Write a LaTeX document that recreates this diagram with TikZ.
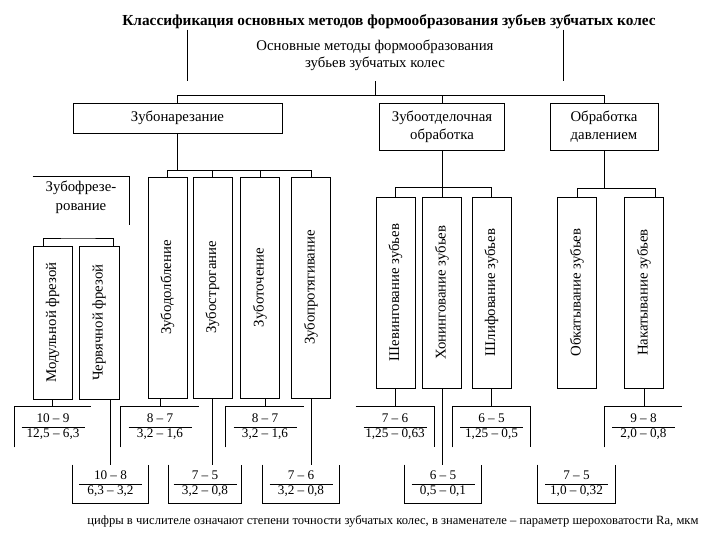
\documentclass[tikz,border=0pt]{standalone}
\usepackage{fontspec}
\setmainfont{Liberation Serif}
\usepackage{graphicx}

\renewcommand{\arraystretch}{1.05}
\setlength{\arrayrulewidth}{0.6pt}
% numerator over denominator, with a fixed rule length
\newcommand{\drob}[2]{\begin{tabular}{@{}c@{}}\makebox[63pt]{#1}\\\hline\makebox[63pt]{#2}\end{tabular}}

\begin{document}
\begin{tikzpicture}[x=1pt, y=-1pt, line width=0.7pt,
    every node/.style={font=\fontsize{14.8}{17}\selectfont, inner sep=0pt, align=center},
    lvl/.style={draw, inner sep=2pt},
    vbox/.style={draw, minimum width=39, minimum height=#1},
    frac/.style={font=\fontsize{13.2}{14}\selectfont, minimum width=#1, minimum height=40},
    fracu/.style={font=\fontsize{13.2}{14}\selectfont, minimum width=#1, minimum height=38}]
    \useasboundingbox (0,0) rectangle (720,540);

    % Title and the top box (only its sides are drawn)
    \node[font=\fontsize{15.3}{17}\selectfont\bfseries] (title) at (389,22) {Классификация основных методов формообразования зубьев зубчатых колес};
    \node[minimum width=375, minimum height=51] (top) at (375,55.5) {Основные методы формообразования\\зубьев зубчатых колес};
    \draw (top.north west) -- (top.south west) (top.north east) -- (top.south east);

    % Second level
    \node[lvl, minimum width=209, minimum height=30] (zn) at (177.5,118) {Зубонарезание};
    \node[lvl, minimum width=125, minimum height=47, font=\fontsize{14.8}{18}\selectfont] (zo) at (442,126.5) {Зубоотделочная\\обработка};
    \node[lvl, minimum width=108, minimum height=47, font=\fontsize{14.8}{18}\selectfont] (od) at (604,126.5) {Обработка\\давлением};
    \draw (top.south) -- ++(0,14) coordinate (b1);
    \draw (zn.north) |- (b1) -| (od.north);
    \draw (zo.north) -- (zo.north |- b1);

    % Gear cutting
    \node[minimum width=96, minimum height=40, font=\fontsize{14.8}{19}\selectfont] (zf) at (81,197) {Зубофрезе-\\рование};
    \draw (zf.north west) -- (zf.north east) -- ++(0,48);
    \foreach \x/\nm/\txt in {167.5/zd/Зубодолбление, 212.5/zs/Зубострогание, 260/zt/Зуботочение, 311/zp/Зубопротягивание}
        \node[vbox=221] (\nm) at (\x,287.5) {\rotatebox{90}{\txt}};
    \draw (zn.south) -- ++(0,37) coordinate (b2);
    \draw (zd.north) |- (b2) -| (zp.north);
    \draw (zs.north) -- (zs.north |- b2);
    \draw (zt.north) -- (zt.north |- b2);

    \node[vbox=153] (mf) at (52.5,322.5) {\rotatebox{90}{Модульной фрезой}};
    \node[vbox=153, minimum width=40] (chf) at (99,322.5) {\rotatebox{90}{Червячной фрезой}};
    \coordinate (b3) at (78,238);
    \draw ([xshift=-9.5]mf.north) |- (b3) -| ([xshift=14]chf.north);

    % Finishing and forming
    \foreach \x/\nm/\txt in {395.5/sh/Шевингование зубьев, 442/ho/Хонингование зубьев, 491.5/shl/Шлифование зубьев, 577/ob/Обкатывание зубьев, 644/nk/Накатывание зубьев}
        \node[vbox=191] (\nm) at (\x,292.5) {\rotatebox{90}{\txt}};
    \draw (zo.south) -- ++(0,37) coordinate (b4);
    \draw (sh.north) |- (b4) -| (shl.north);
    \draw (ho.north) -- (ho.north |- b4);
    \draw (od.south) -- ++(0,38) coordinate (b5);
    \draw (ob.north) |- (b5) -| ([xshift=11]nk.north);

    % Accuracy / roughness, upper row
    \node[frac=76] (fa) at (53,427) {\drob{10 – 9}{12,5 – 6,3}};
    \node[frac=78] (fb) at (160,427) {\drob{8 – 7}{3,2 – 1,6}};
    \node[frac=78] (fc) at (265,427) {\drob{8 – 7}{3,2 – 1,6}};
    \node[frac=78] (fd) at (395,427) {\drob{7 – 6}{1,25 – 0,63}};
    \node[frac=77] (fe) at (491.5,427) {\drob{6 – 5}{1,25 – 0,5}};
    \node[frac=77] (ff) at (643.5,427) {\drob{9 – 8}{2,0 – 0,8}};
    \foreach \f in {fa, fb, fc, ff}
        \draw (\f.south west) |- (\f.north east);
    \draw (fd.north west) -| (fd.south east);
    \draw (fe.south west) |- (fe.north east) -- (fe.south east);
    \draw (mf.south) -- (mf.south |- fa.north);
    \draw (fb.north |- zd.south) -- (fb.north);
    \draw (fc.north |- zt.south) -- (fc.north);
    \draw (sh.south) -- (sh.south |- fd.north);
    \draw (shl.south) -- (shl.south |- fe.north);
    \draw (nk.south) -- (nk.south |- ff.north);

    % lower row
    \node[fracu=75] (ga) at (110.5,484) {\drob{10 – 8}{6,3 – 3,2}};
    \node[fracu=72] (gb) at (205,484) {\drob{7 – 5}{3,2 – 0,8}};
    \node[fracu=76] (gc) at (301,484) {\drob{7 – 6}{3,2 – 0,8}};
    \node[fracu=76] (gd) at (443,484) {\drob{6 – 5}{0,5 – 0,1}};
    \node[fracu=77] (ge) at (576.5,484) {\drob{7 – 5}{1,0 – 0,32}};
    \foreach \g in {ga, gb, gc, gd, ge}
        \draw (\g.north west) |- (\g.south east) -- (\g.north east);
    \draw (ga.north |- chf.south) -- (ga.north);
    \draw (zs.south) -- (zs.south |- gb.north);
    \draw (zp.south) -- (zp.south |- gc.north);
    \draw (ho.south) -- (ho.south |- gd.north);

    \node[font=\fontsize{12.6}{14}\selectfont] (note) at (393,521) {цифры в числителе означают степени точности зубчатых колес, в знаменателе – параметр шероховатости Ra, мкм};
\end{tikzpicture}
\end{document}
